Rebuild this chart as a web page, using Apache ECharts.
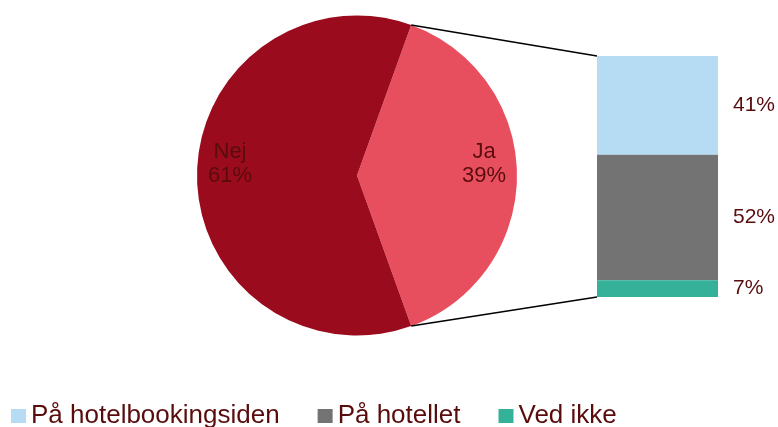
<!DOCTYPE html>
<html>
<head>
<meta charset="utf-8">
<script src="https://cdn.jsdelivr.net/npm/echarts@6/dist/echarts.min.js"></script>
<style>
  html, body { margin: 0; padding: 0; background: #fff; }
  #main { width: 778px; height: 427px; }
</style>
</head>
<body>
<div id="main"></div>
<script>
// Survey answers: the pie splits Ja / Nej, the bar breaks the "Ja" share down
const answerNames = ['Ja', 'Nej'];
const answerValues = [39, 61];
const bookingNames = ['På hotelbookingsiden', 'På hotellet', 'Ved ikke'];
const bookingValues = [41, 52, 7];

const pieColors = ['#E84F5E', '#9B0B1E'];
const barColors = ['#B5DCF2', '#737373', '#35B19A'];
const textColor = '#5A0C0C';
const fontFamily = '"Liberation Sans", Arial, Helvetica, sans-serif';

const pieCenter = [357, 175.5];
const pieRadius = 160;
const gridBox = { left: 597, top: 56, width: 121, height: 241 };

// The "Ja" slice is centred on the 3 o'clock direction
const answerTotal = answerValues.reduce((a, b) => a + b, 0);
const startAngle = (answerValues[0] / answerTotal) * 360 / 2;

const pieData = answerNames.map((name, i) => ({
  name: name,
  value: answerValues[i],
  itemStyle: { color: pieColors[i] }
}));

const chart = echarts.init(document.getElementById('main'));

const option = {
  animation: false,
  backgroundColor: '#fff',
  textStyle: { fontFamily: fontFamily },
  legend: {
    data: bookingNames,
    icon: 'rect',
    itemWidth: 15,
    itemHeight: 14,
    itemGap: 38,
    left: 11,
    top: 403,
    padding: 0,
    selectedMode: false,
    textStyle: { fontSize: 26, color: textColor, fontFamily: fontFamily }
  },
  grid: Object.assign({ containLabel: false }, gridBox),
  xAxis: { type: 'category', data: [''], show: false },
  yAxis: { type: 'value', min: 0, max: 100, inverse: true, show: false },
  series: [
    {
      type: 'pie',
      center: pieCenter,
      radius: [0, pieRadius],
      startAngle: startAngle,
      clockwise: true,
      silent: true,
      label: { show: false },
      labelLine: { show: false },
      data: pieData
    },
    {
      // transparent ring used only to place the slice labels further out
      type: 'pie',
      center: pieCenter,
      radius: [88, pieRadius],
      startAngle: startAngle,
      clockwise: true,
      silent: true,
      itemStyle: { color: 'rgba(0,0,0,0)' },
      label: {
        show: true,
        position: 'inside',
        rotate: 0,
        // trailing blank line lifts the two text lines above the anchor
        formatter: '{b}\n{c}%\n ',
        fontSize: 22,
        lineHeight: 24,
        color: textColor,
        fontFamily: fontFamily
      },
      labelLine: { show: false },
      data: answerNames.map((name, i) => ({ name: name, value: answerValues[i] }))
    }
  ].concat(bookingNames.map((name, i) => ({
    type: 'bar',
    name: name,
    stack: 'ja',
    barWidth: '100%',
    silent: true,
    itemStyle: { color: barColors[i] },
    label: {
      show: true,
      position: 'right',
      distance: 15,
      formatter: '{c}%',
      fontSize: 21,
      color: textColor,
      fontFamily: fontFamily
    },
    data: [bookingValues[i]]
  })))
};

chart.setOption(option);

// Connector lines from the edges of the "Ja" slice to the corners of the bar
const rad = startAngle * Math.PI / 180;
const sliceTop = [pieCenter[0] + pieRadius * Math.cos(rad), pieCenter[1] - pieRadius * Math.sin(rad)];
const sliceBottom = [pieCenter[0] + pieRadius * Math.cos(rad), pieCenter[1] + pieRadius * Math.sin(rad)];
const barTopY = chart.convertToPixel({ yAxisIndex: 0 }, 0);
const barBottomY = chart.convertToPixel({ yAxisIndex: 0 }, bookingValues.reduce((a, b) => a + b, 0));
const barLeftX = gridBox.left;

chart.setOption({
  graphic: [
    {
      type: 'line',
      shape: { x1: sliceTop[0], y1: sliceTop[1], x2: barLeftX, y2: barTopY },
      style: { stroke: '#000', lineWidth: 1.5 },
      z: 10
    },
    {
      type: 'line',
      shape: { x1: sliceBottom[0], y1: sliceBottom[1], x2: barLeftX, y2: barBottomY },
      style: { stroke: '#000', lineWidth: 1.5 },
      z: 10
    }
  ]
});
</script>
</body>
</html>
